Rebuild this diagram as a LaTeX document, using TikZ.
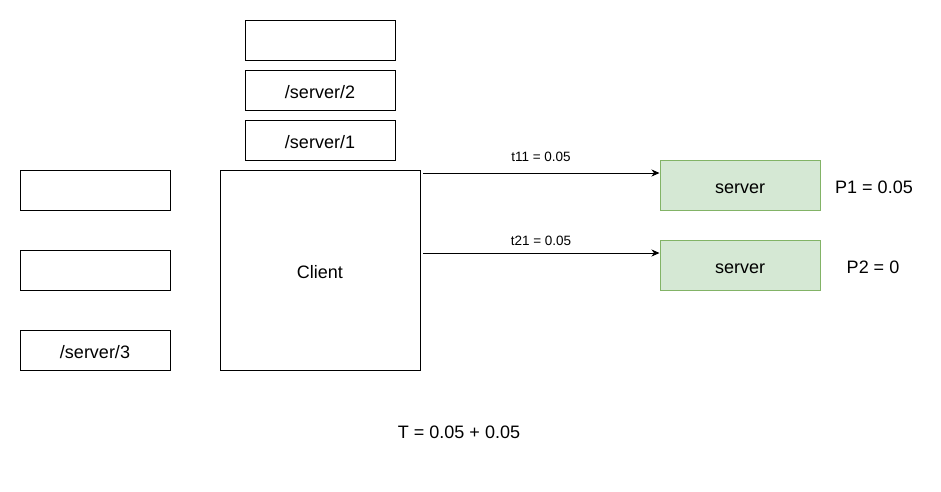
\documentclass[tikz,border=0pt]{standalone}
\usepackage{fontspec}
\setmainfont{Liberation Sans}
\usetikzlibrary{arrows.meta}
\definecolor{gfill}{HTML}{D5E8D4}
\definecolor{gline}{HTML}{82B366}
\tikzset{
  box/.style={draw=black, line width=1pt, fill=white, inner sep=0pt, text height=17pt, text depth=0pt, font=\fontsize{18}{20}\selectfont},
  sbox/.style={box, minimum width=150pt, minimum height=40pt},
  gbox/.style={box, draw=gline, fill=gfill, minimum width=160pt, minimum height=50pt},
  lbl/.style={inner sep=0pt, font=\fontsize{13.5}{15}\selectfont},
  big/.style={inner sep=0pt, font=\fontsize{18}{20}\selectfont},
  arr/.style={line width=1pt, -{Stealth[length=8pt, width=7pt, inset=2.5pt]}}
}
\begin{document}
\begin{tikzpicture}[x=1pt, y=-1pt]
\useasboundingbox (0,0) rectangle (941,491);
% left column
\node[sbox] (l1) at (95,190) {};
\node[sbox] (l2) at (95,270) {};
\node[sbox] (l3) at (95,350) {/server/3};
% top column
\node[sbox] (t0) at (320,40) {};
\node[sbox] (t2) at (320,90) {/server/2};
\node[sbox] (t1) at (320,140) {/server/1};
% client
\node[box, minimum width=200pt, minimum height=200pt] (client) at (320,270) {Client};
% servers
\node[gbox] (s1) at (740,185) {server};
\node[gbox] (s2) at (740,265) {server};
% arrows
\coordinate (a1) at (423,173);
\coordinate (a2) at (423,253);
\draw[arr] (a1) -- (a1 -| s1.west);
\draw[arr] (a2) -- (a2 -| s2.west);
\node[lbl] (l11) at (541,157) {t11 = 0.05};
\node[lbl] (l21) at (541,241) {t21 = 0.05};
\node[big] (p1) at (874,187) {P1 = 0.05};
\node[big] (p2) at (873,267) {P2 = 0};
\node[big] (tt) at (459,432) {T = 0.05 + 0.05};
\end{tikzpicture}
\end{document}
